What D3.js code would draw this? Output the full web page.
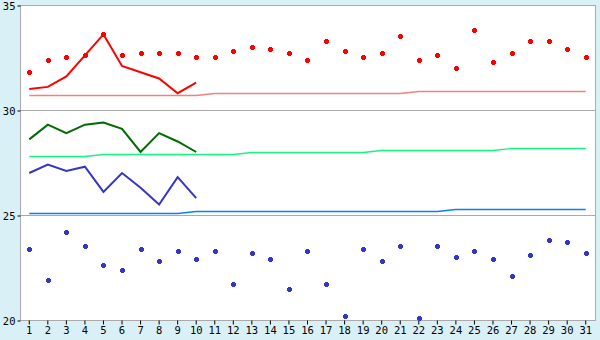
<!DOCTYPE html>
<html>
<head>
<meta charset="utf-8">
<script src="https://cdn.jsdelivr.net/npm/d3@7"></script>
<style>
  body { margin: 0; background: #d9f0f7; }
  svg { display: block; }
  text { font-family: "DejaVu Sans Mono", monospace; font-size: 10.5px; fill: #000; }
</style>
</head>
<body>
<svg id="chart" width="600" height="340"></svg>
<script>
// days of the month
const days = d3.range(1, 32);

// daily highs (red dots) and lows (blue dots)
const highPoints = [31.8, 32.4, 32.5, 32.6, 33.6, 32.6, 32.7, 32.7, 32.7, 32.5,
                    32.5, 32.8, 33.0, 32.9, 32.7, 32.4, 33.3, 32.8, 32.5, 32.7,
                    33.5, 32.4, 32.6, 32.0, 33.8, 32.3, 32.7, 33.3, 33.3, 32.9, 32.5];
const lowPoints = [23.4, 21.9, 24.2, 23.5, 22.6, 22.4, 23.4, 22.8, 23.3, 22.9,
                   23.3, 21.7, 23.2, 22.9, 21.5, 23.3, 21.7, 20.2, 23.4, 22.8,
                   23.5, 20.1, 23.5, 23.0, 23.3, 22.9, 22.1, 23.1, 23.8, 23.7, 23.2];

// current month lines (first 10 days)
const highLine = [31.0, 31.1, 31.6, 32.6, 33.6, 32.1, 31.8, 31.5, 30.8, 31.3];
const meanLine = [28.6, 29.3, 28.9, 29.3, 29.4, 29.1, 28.0, 28.9, 28.5, 28.0];
const lowLine  = [27.0, 27.4, 27.1, 27.3, 26.1, 27.0, 26.3, 25.5, 26.8, 25.8];

// normals (thin lines)
const highNormal = [30.7, 30.7, 30.7, 30.7, 30.7, 30.7, 30.7, 30.7, 30.7, 30.7,
                    30.8, 30.8, 30.8, 30.8, 30.8, 30.8, 30.8, 30.8, 30.8, 30.8,
                    30.8, 30.9, 30.9, 30.9, 30.9, 30.9, 30.9, 30.9, 30.9, 30.9, 30.9];
const meanNormal = [27.8, 27.8, 27.8, 27.8, 27.9, 27.9, 27.9, 27.9, 27.9, 27.9,
                    27.9, 27.9, 28.0, 28.0, 28.0, 28.0, 28.0, 28.0, 28.0, 28.1,
                    28.1, 28.1, 28.1, 28.1, 28.1, 28.1, 28.2, 28.2, 28.2, 28.2, 28.2];
const lowNormal  = [25.1, 25.1, 25.1, 25.1, 25.1, 25.1, 25.1, 25.1, 25.1, 25.2,
                    25.2, 25.2, 25.2, 25.2, 25.2, 25.2, 25.2, 25.2, 25.2, 25.2,
                    25.2, 25.2, 25.2, 25.3, 25.3, 25.3, 25.3, 25.3, 25.3, 25.3, 25.3];

const yTicks = [20, 25, 30, 35];

const svg = d3.select('#chart');
const mLeft = 20, mRight = 595, mTop = 5, mBottom = 320;

const x = d3.scaleBand().domain(days).range([mLeft, mRight]);
const y = d3.scaleLinear().domain([20, 35]).range([mBottom, mTop]);
const cx = d => x(d) + x.bandwidth() / 2;

// plot area
svg.append('rect')
    .attr('x', mLeft).attr('y', mTop)
    .attr('width', mRight - mLeft).attr('height', mBottom - mTop)
    .attr('fill', '#fff');

// gridlines
svg.append('g')
    .selectAll('line')
    .data(yTicks)
    .enter()
    .append('line')
    .attr('x1', mLeft).attr('x2', mRight)
    .attr('y1', d => y(d) + 0.5).attr('y2', d => y(d) + 0.5)
    .attr('stroke', '#aaa');

// border
svg.append('rect')
    .attr('x', mLeft + 0.5).attr('y', mTop + 0.5)
    .attr('width', mRight - mLeft).attr('height', mBottom - mTop)
    .attr('fill', 'none')
    .attr('stroke', '#aaa');

// axes
const yAxis = svg.append('g')
    .attr('transform', `translate(${mLeft + 0.5},0.5)`)
    .call(d3.axisLeft(y).tickValues(yTicks).tickSize(3).tickPadding(2));
yAxis.select('.domain').remove();
yAxis.selectAll('line').attr('stroke', '#000');
yAxis.selectAll('text').attr('dy', '0.38em');

const xAxis = svg.append('g')
    .attr('transform', `translate(0,${mBottom + 0.5})`)
    .call(d3.axisBottom(x).tickSize(4).tickPadding(2));
xAxis.select('.domain').remove();
xAxis.selectAll('line').attr('stroke', '#000');

// normals
const normals = [
    { values: highNormal, color: '#f28080' },
    { values: meanNormal, color: '#14f580' },
    { values: lowNormal, color: '#0a7ff5' }
];
const line = d3.line()
    .x((d, i) => cx(days[i]))
    .y(d => Math.round(y(d)) + 0.5);

normals.forEach(n => {
    svg.append('path')
        .datum(n.values)
        .attr('d', line)
        .attr('fill', 'none')
        .attr('stroke', n.color)
        .attr('stroke-width', 1.3);
});

// current lines
const current = [
    { values: highLine, color: '#ff0000' },
    { values: meanLine, color: '#006a00' },
    { values: lowLine, color: '#3535c8' }
];
const line2 = d3.line()
    .x((d, i) => cx(days[i]))
    .y(d => y(d));

current.forEach(c => {
    svg.append('path')
        .datum(c.values)
        .attr('d', line2)
        .attr('fill', 'none')
        .attr('stroke', c.color)
        .attr('stroke-width', 2);
});

// blocky cross marker
const blockCross = {
    draw(ctx, size) {
        const a = 1.5, b = 2.5;
        ctx.moveTo(-a, -b);
        ctx.lineTo(a, -b);
        ctx.lineTo(a, -a);
        ctx.lineTo(b, -a);
        ctx.lineTo(b, a);
        ctx.lineTo(a, a);
        ctx.lineTo(a, b);
        ctx.lineTo(-a, b);
        ctx.lineTo(-a, a);
        ctx.lineTo(-b, a);
        ctx.lineTo(-b, -a);
        ctx.lineTo(-a, -a);
        ctx.closePath();
    }
};
const marker = d3.symbol().type(blockCross);

const dots = [
    { values: highPoints, color: '#ff0000' },
    { values: lowPoints, color: '#3535c8' }
];
dots.forEach(s => {
    svg.append('g')
        .selectAll('path')
        .data(s.values)
        .enter()
        .append('path')
        .attr('d', marker)
        .attr('transform', (d, i) => `translate(${Math.round(cx(days[i])) + 0.5},${Math.round(y(d)) + 0.5})`)
        .attr('fill', s.color)
        .attr('shape-rendering', 'crispEdges');
});
</script>
</body>
</html>
